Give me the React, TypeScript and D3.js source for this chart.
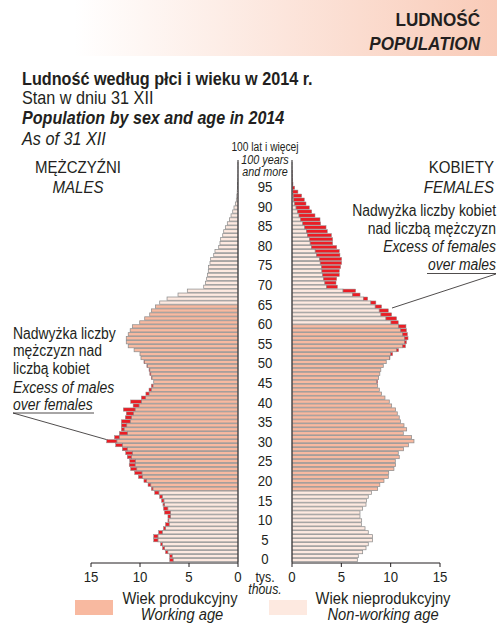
import React from "react";
import * as d3 from "d3";

const ages: number[] = d3.range(0, 101);
// thousands, index = age 0..100
const males: number[] = [
  6.97, 6.97, 7.4, 7.7, 7.9, 8.6, 8.6, 8.1, 7.6, 7.4,
  7.15, 7.15, 7.5, 7.6, 7.66, 7.8, 8.0, 8.5, 8.84, 9.18,
  9.6, 10.16, 10.54, 10.95, 11.1, 11.05, 11.3, 11.46, 11.8, 12.48,
  13.4, 12.6, 12.1, 11.9, 11.9, 11.9, 11.5, 11.4, 11.7, 10.7,
  10.95, 9.86, 9.4, 9.08, 8.84, 8.6, 8.84, 9.0, 9.08, 9.3,
  9.6, 9.9, 10.0, 10.6, 11.2, 11.4, 11.4, 11.2, 11.0, 10.78,
  10.03, 9.52, 9.01, 8.84, 8.43, 7.99, 7.24, 6.12, 5.17, 3.5,
  3.33, 3.2, 3.1, 3.03, 3.0, 2.86, 2.79, 2.48, 2.35, 1.97,
  1.84, 1.77, 1.56, 1.46, 1.29, 1.09, 0.88, 0.71, 0.54, 0.41,
  0.27, 0.17, 0.12, 0.08, 0.06, 0.04, 0.03, 0.02, 0.01, 0.01,
  0.01,
];
const females: number[] = [
  6.62, 6.72, 7.16, 7.5, 7.73, 8.17, 8.17, 7.73, 7.4, 7.03,
  7.06, 6.89, 6.89, 7.16, 7.5, 7.56, 7.73, 8.07, 8.68, 8.9,
  9.32, 9.76, 9.8, 10.33, 10.5, 10.47, 10.87, 10.77, 11.3, 11.8,
  12.36, 12.12, 11.28, 11.62, 11.35, 11.0, 10.87, 10.67, 10.5, 10.1,
  9.86, 9.42, 9.08, 8.85, 8.68, 8.68, 8.78, 8.9, 9.0, 9.25,
  9.55, 9.93, 10.2, 10.8, 11.5, 11.6, 11.76, 11.7, 11.6, 11.55,
  10.77, 10.6, 10.1, 9.76, 9.08, 8.5, 7.67, 6.9, 6.45, 4.6,
  4.46, 4.53, 4.8, 4.8, 4.93, 5.03, 5.03, 4.86, 4.8, 4.53,
  4.12, 4.12, 4.0, 3.58, 3.45, 2.9, 2.84, 2.33, 2.0, 1.76,
  1.42, 1.25, 0.98, 0.6, 0.27, 0.1, 0.05, 0.03, 0.02, 0.01,
  0.01,
];
const ageLabels: number[] = d3.range(0, 100, 5);
const xTicks: number[] = [0, 5, 10, 15];
const workingMale: [number, number] = [18, 64];
const workingFemale: [number, number] = [18, 59];

const FONT = "'Liberation Sans', Arial, sans-serif";
const C_WORK = "#f8b9a0";
const C_NONWORK = "#fde9e0";
const C_RED = "#ec1c24";
const C_STROKE = "#8e8e8e";
const INK = "#231f20";

type TProps = {
  x: number; y: number; size: number; sx?: number;
  anchor?: "start" | "middle" | "end"; bold?: boolean; italic?: boolean;
  children: React.ReactNode;
};
function T({ x, y, size, sx = 0.89, anchor = "start", bold, italic, children }: TProps) {
  return (
    <text transform={`translate(${x},${y}) scale(${sx},1)`} textAnchor={anchor}
      fontSize={size} fontFamily={FONT} fill={INK}
      fontWeight={bold ? "bold" : "normal"} fontStyle={italic ? "italic" : "normal"}>
      {children}
    </text>
  );
}

export default function App() {
  const W = 497, H = 624;
  const y = d3.scaleBand<number>().domain([...ages].reverse()).range([162, 562]).paddingInner(0);
  const yLab = d3.scaleLinear().domain([0, 95]).range([559, 186.6]);
  const xL = d3.scaleLinear().domain([0, 15]).range([238, 91]);
  const xR = d3.scaleLinear().domain([0, 15]).range([292, 440]);
  const bh = y.bandwidth();
  const axisY = 563;

  const rects: React.ReactNode[] = [];
  ages.forEach((a) => {
    const m = males[a], f = females[a];
    const base = Math.min(m, f);
    const yy = (y(a) as number) + 0.35;
    const h = bh - 0.7;
    const cL = a >= workingMale[0] && a <= workingMale[1] ? C_WORK : C_NONWORK;
    const cR = a >= workingFemale[0] && a <= workingFemale[1] ? C_WORK : C_NONWORK;
    rects.push(
      <rect key={"lb" + a} x={xL(base)} y={yy} width={xL(0) - xL(base)} height={h}
        fill={cL} stroke={C_STROKE} strokeWidth={0.75} />
    );
    if (m > f) {
      rects.push(
        <rect key={"lr" + a} x={xL(m)} y={yy} width={xL(f) - xL(m)} height={h}
          fill={C_RED} stroke={C_STROKE} strokeWidth={0.5} />
      );
    }
    rects.push(
      <rect key={"rb" + a} x={xR(0)} y={yy} width={xR(base) - xR(0)} height={h}
        fill={cR} stroke={C_STROKE} strokeWidth={0.75} />
    );
    if (f > m) {
      rects.push(
        <rect key={"rr" + a} x={xR(m)} y={yy} width={xR(f) - xR(m)} height={h}
          fill={C_RED} stroke={C_STROKE} strokeWidth={0.5} />
      );
    }
  });

  return (
    <svg width={W} height={H} style={{ position: "absolute", left: 0, top: 0 }}
      xmlns="http://www.w3.org/2000/svg">
      <defs>
        <linearGradient id="hdr" x1="0" x2="1" y1="0" y2="0">
          <stop offset="0" stopColor="#ffffff" />
          <stop offset="0.15" stopColor="#ffffff" />
          <stop offset="1" stopColor="#f9cbb8" />
        </linearGradient>
      </defs>
      <rect x={0} y={0} width={W} height={56} fill="url(#hdr)" />
      <T x={480} y={26} size={19} sx={0.9} anchor="end" bold>LUDNOŚĆ</T>
      <T x={480} y={50} size={19} sx={0.9} anchor="end" bold italic>POPULATION</T>

      <T x={22} y={85} size={18} sx={0.9} bold>Ludność według płci i wieku w 2014 r.</T>
      <T x={22} y={104} size={18} sx={0.9}>Stan w dniu 31 XII</T>
      <T x={22} y={124} size={18} sx={0.895} bold italic>Population by sex and age in 2014</T>
      <T x={22} y={145} size={18} sx={0.9} italic>As of 31 XII</T>

      <T x={78} y={173} size={16} sx={0.94} anchor="middle">MĘŻCZYŹNI</T>
      <T x={78} y={193} size={16} sx={0.94} anchor="middle" italic>MALES</T>
      <T x={494} y={173} size={16} sx={0.94} anchor="end">KOBIETY</T>
      <T x={494} y={193} size={16} sx={0.94} anchor="end" italic>FEMALES</T>

      <T x={496} y={216} size={16} sx={0.87} anchor="end">Nadwyżka liczby kobiet</T>
      <T x={496} y={234} size={16} sx={0.87} anchor="end">nad liczbą mężczyzn</T>
      <T x={496} y={252} size={16} sx={0.87} anchor="end" italic>Excess of females</T>
      <T x={496} y={270} size={16} sx={0.87} anchor="end" italic>over males</T>
      <line x1={427} x2={496} y1={273.5} y2={273.5} stroke={INK} strokeWidth={0.8} />
      <line x1={496} y1={274} x2={392} y2={308} stroke={INK} strokeWidth={0.8} />

      <T x={13} y={339} size={16} sx={0.87}>Nadwyżka liczby</T>
      <T x={13} y={356} size={16} sx={0.87}>mężczyzn nad</T>
      <T x={13} y={374} size={16} sx={0.87}>liczbą kobiet</T>
      <T x={13} y={393} size={16} sx={0.87} italic>Excess of males</T>
      <T x={13} y={410} size={16} sx={0.87} italic>over females</T>
      <line x1={13} x2={94} y1={413} y2={413} stroke={INK} strokeWidth={0.8} />
      <line x1={13} y1={413} x2={108} y2={440} stroke={INK} strokeWidth={0.8} />

      <g>{rects}</g>

      <line x1={xL(0)} x2={xL(0)} y1={160} y2={axisY} stroke={INK} strokeWidth={1} />
      <line x1={xR(0)} x2={xR(0)} y1={160} y2={axisY} stroke={INK} strokeWidth={1} />
      <line x1={xL(15)} x2={xL(0)} y1={axisY} y2={axisY} stroke={INK} strokeWidth={1} />
      <line x1={xR(0)} x2={xR(15)} y1={axisY} y2={axisY} stroke={INK} strokeWidth={1} />
      {xTicks.map((t) => (
        <g key={"t" + t}>
          <line x1={xL(t)} x2={xL(t)} y1={axisY} y2={axisY + 4} stroke={INK} />
          <line x1={xR(t)} x2={xR(t)} y1={axisY} y2={axisY + 4} stroke={INK} />
          <T x={xL(t)} y={582} size={15} sx={0.88} anchor="middle">{t}</T>
          <T x={xR(t)} y={582} size={15} sx={0.88} anchor="middle">{t}</T>
        </g>
      ))}

      {ageLabels.map((a) => (
        <T key={"a" + a} x={265} y={yLab(a) + 5.3} size={15} sx={0.88} anchor="middle">{a}</T>
      ))}
      <T x={265} y={151} size={13.5} sx={0.76} anchor="middle">100 lat i więcej</T>
      <T x={265} y={163.5} size={13.5} sx={0.8} anchor="middle" italic>100 years</T>
      <T x={265} y={176} size={13.5} sx={0.8} anchor="middle" italic>and more</T>
      <T x={265} y={581.5} size={14} sx={0.88} anchor="middle">tys.</T>
      <T x={265} y={594} size={14} sx={0.88} anchor="middle" italic>thous.</T>

      <rect x={75} y={600} width={38} height={15} fill={C_WORK} />
      <T x={180} y={604} size={16} sx={0.92} anchor="middle">Wiek produkcyjny</T>
      <T x={182} y={620} size={16} sx={0.92} anchor="middle" italic>Working age</T>
      <rect x={269} y={600} width={38} height={15} fill={C_NONWORK} />
      <T x={383} y={604} size={16} sx={0.92} anchor="middle">Wiek nieprodukcyjny</T>
      <T x={383} y={620} size={16} sx={0.92} anchor="middle" italic>Non-working age</T>
    </svg>
  );
}
